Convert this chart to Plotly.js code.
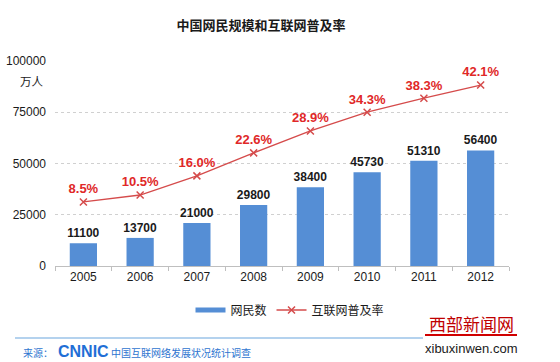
<!DOCTYPE html>
<html>
<head>
<meta charset="utf-8">
<script src="https://cdn.plot.ly/plotly-3.0.1.min.js"></script>
<style>html,body{margin:0;padding:0;background:#fff;}#chart{width:560px;height:362px;}</style>
</head>
<body>
<div id="chart"></div>
<script>
const years = ['2005','2006','2007','2008','2009','2010','2011','2012'];
const netizens = [11100, 13700, 21000, 29800, 38400, 45730, 51310, 56400];
const penetration = [8.5, 10.5, 16.0, 22.6, 28.9, 34.3, 38.3, 42.1];
const yTicks = [0, 25000, 50000, 75000, 100000];
const yTickText = ['0', '25000', '50000', '75000', '100000'];

const sans = 'Liberation Sans, Arial, sans-serif';
const cjk = 'Noto Sans CJK SC, sans-serif';
const barColor = '#558ED5';
const lineColor = '#D54B4B';

const barTrace = {
  type: 'bar', name: '网民数', x: years, y: netizens, showlegend: false,
  marker: {color: barColor}, width: 0.48,
  text: netizens.map(String), textposition: 'outside', constraintext: 'none',
  textfont: {family: sans, size: 12, color: '#1a1a1a', weight: 'bold'},
  cliponaxis: false, hoverinfo: 'none'
};
// legend entry for the bars (wide flat swatch as in the reference)
const barLegend = {
  type: 'scatter', mode: 'lines', name: '网民数', x: [years[0]], y: [null],
  line: {color: barColor, width: 5}, hoverinfo: 'none'
};
const lineTrace = {
  type: 'scatter', mode: 'lines+markers+text', name: '互联网普及率',
  x: years, y: penetration, yaxis: 'y2',
  line: {color: lineColor, width: 1.3},
  marker: {symbol: 'x-thin', size: 7, line: {color: lineColor, width: 1.5}, color: lineColor},
  text: penetration.map(v => v.toFixed(1) + '%'), textposition: 'top center',
  textfont: {family: sans, size: 13, color: '#E02828', weight: 'bold'},
  cliponaxis: false, hoverinfo: 'none'
};

const px = p => (p - 55) / 454;
const py = p => (266 - p) / 205;

const layout = {
  width: 560, height: 362,
  margin: {l: 55, r: 51, t: 61, b: 96},
  paper_bgcolor: '#ffffff', plot_bgcolor: 'rgba(0,0,0,0)',
  showlegend: true,
  title: {text: '中国网民规模和互联网普及率', x: 261/560, xanchor: 'center', y: 1 - 25/362, yanchor: 'middle',
          font: {family: cjk, size: 13, color: '#1a1a1a', weight: 'bold'}},
  xaxis: {type: 'category', showline: true, linecolor: '#bfbfbf', linewidth: 1,
          ticks: 'outside', tickson: 'boundaries', ticklen: 4, tickcolor: '#bfbfbf',
          tickfont: {family: sans, size: 12, color: '#1a1a1a'}, showgrid: false},
  yaxis: {range: [0, 100000], tickvals: yTicks, ticktext: yTickText,
          showgrid: true, gridcolor: '#d0d0d0', griddash: 'dot', gridwidth: 1,
          zeroline: false, showline: false, ticks: '', ticklabelstandoff: 8,
          tickfont: {family: sans, size: 12, color: '#1a1a1a'}},
  yaxis2: {range: [-9.9, 49.0], overlaying: 'y', side: 'right', visible: false, showgrid: false, zeroline: false},
  legend: {orientation: 'h', x: px(290), xanchor: 'center', y: py(310), yanchor: 'middle',
           font: {family: cjk, size: 12, color: '#1a1a1a'}, bgcolor: 'rgba(0,0,0,0)', itemwidth: 30},
  annotations: [
    {text: '万人', xref: 'paper', yref: 'paper', x: px(46), xanchor: 'right', y: py(81), yanchor: 'middle',
     showarrow: false, font: {family: cjk, size: 11.5, color: '#1a1a1a'}},
    {text: '来源：', xref: 'paper', yref: 'paper', x: px(21), xanchor: 'left', y: py(352), yanchor: 'middle',
     showarrow: false, font: {family: cjk, size: 10, color: '#2E75D0'}},
    {text: '<b>CNNIC</b>', xref: 'paper', yref: 'paper', x: px(56), xanchor: 'left', y: py(351), yanchor: 'middle',
     showarrow: false, font: {family: sans, size: 16, color: '#1F6FD6'}},
    {text: '中国互联网络发展状况统计调查', xref: 'paper', yref: 'paper', x: px(109), xanchor: 'left', y: py(352), yanchor: 'middle',
     showarrow: false, font: {family: cjk, size: 10, color: '#2E75D0'}},
    {text: '西部新闻网', xref: 'paper', yref: 'paper', x: px(471), xanchor: 'center', y: py(323), yanchor: 'middle',
     showarrow: false, font: {family: cjk, size: 17, color: '#C00000'}},
    {text: 'xibuxinwen.com', xref: 'paper', yref: 'paper', x: px(471), xanchor: 'center', y: py(348), yanchor: 'middle',
     showarrow: false, font: {family: sans, size: 13, color: '#1a1a1a'}}
  ],
  shapes: [
    {type: 'line', xref: 'paper', yref: 'paper', x0: px(15), x1: px(423), y0: py(338), y1: py(338),
     line: {color: '#B4D2EE', width: 2}},
    {type: 'line', xref: 'paper', yref: 'paper', x0: px(425), x1: px(517), y0: py(335), y1: py(335),
     line: {color: '#D00000', width: 2}}
  ]
};

Plotly.newPlot('chart', [barTrace, barLegend, lineTrace], layout, {displayModeBar: false, staticPlot: true});
</script>
</body>
</html>
